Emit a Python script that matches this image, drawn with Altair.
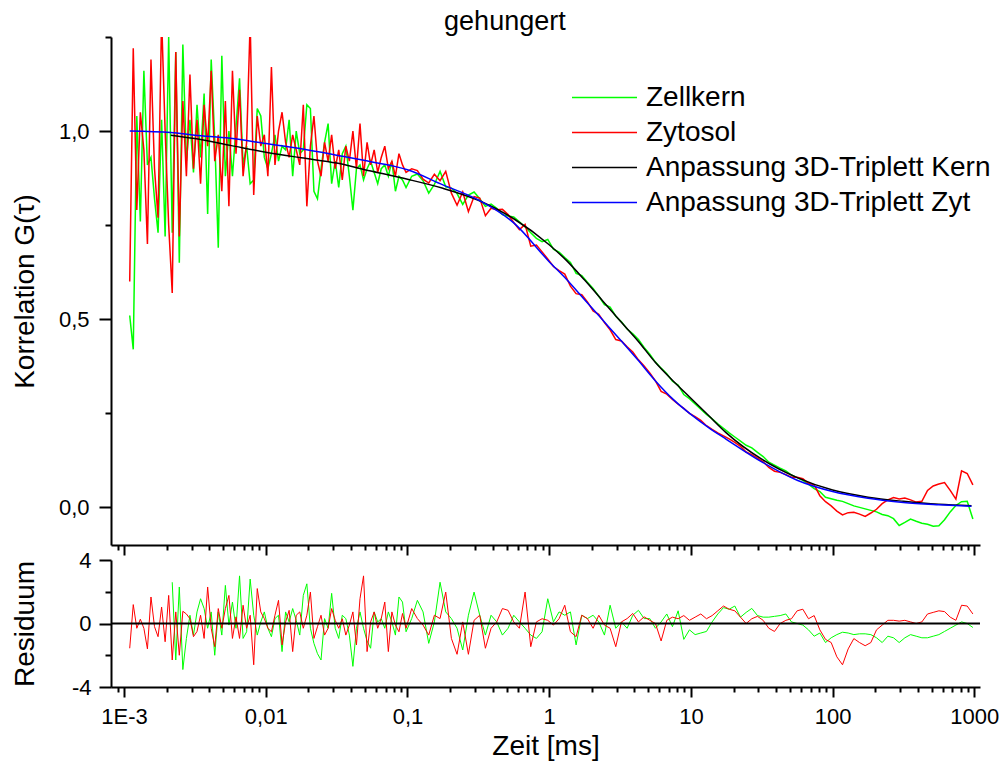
import altair as alt
import numpy as np
import pandas as pd

FONT = "Liberation Sans"

# lag times (log10 of tau in ms)
LOG_TAU = [
    -2.960, -2.935, -2.910, -2.885, -2.860, -2.835, -2.810, -2.785, -2.760, -2.735,
    -2.710, -2.685, -2.660, -2.635, -2.610, -2.585, -2.560, -2.535, -2.510, -2.485,
    -2.460, -2.435, -2.410, -2.385, -2.360, -2.335, -2.310, -2.285, -2.260, -2.235,
    -2.210, -2.185, -2.160, -2.135, -2.110, -2.085, -2.060, -2.035, -2.010, -1.985,
    -1.960, -1.935, -1.910, -1.885, -1.860, -1.835, -1.810, -1.785, -1.760, -1.735,
    -1.710, -1.685, -1.660, -1.635, -1.610, -1.585, -1.560, -1.535, -1.510, -1.485,
    -1.460, -1.435, -1.410, -1.385, -1.360, -1.335, -1.310, -1.285, -1.260, -1.235,
    -1.210, -1.185, -1.160, -1.135, -1.110, -1.085, -1.060, -1.035, -1.010,
    -0.97, -0.93, -0.89, -0.85, -0.81, -0.77, -0.73, -0.69, -0.65, -0.61,
    -0.57, -0.53, -0.49, -0.45, -0.41, -0.37, -0.33, -0.29, -0.25, -0.21,
    -0.17, -0.13, -0.09, -0.05, -0.01, 0.03, 0.07, 0.11, 0.15, 0.19,
    0.23, 0.27, 0.31, 0.35, 0.39, 0.43, 0.47, 0.51, 0.55, 0.59,
    0.63, 0.67, 0.71, 0.75, 0.79, 0.83, 0.87, 0.91, 0.95, 0.99,
    1.03, 1.07, 1.11, 1.15, 1.19, 1.23, 1.27, 1.31, 1.35, 1.39,
    1.43, 1.47, 1.51, 1.55, 1.59, 1.63, 1.67, 1.71, 1.75, 1.79,
    1.83, 1.87, 1.91, 1.95, 1.99, 2.03, 2.07, 2.11, 2.15, 2.19,
    2.23, 2.27, 2.31, 2.35, 2.39, 2.43, 2.47, 2.51, 2.55, 2.59,
    2.63, 2.67, 2.71, 2.75, 2.79, 2.83, 2.87, 2.91, 2.95, 2.99,
]

ZELLKERN = [
    0.51, 0.42, 1.04, 0.76, 1.16, 0.91, 0.93, 0.82, 0.73, 1.03,
    0.72, 1.25, 0.73, 1.21, 0.65, 1.23, 0.92, 1.03, 0.89, 1.07,
    0.93, 1.10, 0.78, 1.19, 0.98, 0.69, 1.20, 0.88, 1.00, 0.88,
    1.01, 1.14, 0.91, 0.96, 0.86, 0.87, 1.06, 1.04, 0.93, 0.90,
    0.94, 0.99, 0.92, 0.96, 0.95, 1.03, 0.88, 1.00, 0.94, 0.95,
    1.07, 1.06, 0.84, 0.82, 0.90, 0.97, 1.02, 0.86, 0.92, 0.85,
    0.94, 0.96, 0.88, 0.79, 0.90, 0.91, 0.87, 0.90, 0.92, 0.89,
    0.86, 0.90, 0.91, 0.88, 0.92, 0.84, 0.88, 0.87, 0.85,
    0.880, 0.886, 0.868, 0.835, 0.858, 0.893, 0.852, 0.848, 0.834, 0.805,
    0.830, 0.838, 0.820, 0.800, 0.806, 0.795, 0.778, 0.774, 0.772, 0.759,
    0.745, 0.730, 0.715, 0.706, 0.712, 0.686, 0.678, 0.664, 0.651, 0.622,
    0.616, 0.598, 0.582, 0.561, 0.539, 0.532, 0.508, 0.493, 0.474, 0.461,
    0.446, 0.425, 0.407, 0.386, 0.370, 0.355, 0.335, 0.325, 0.300, 0.289,
    0.275, 0.261, 0.247, 0.235, 0.222, 0.210, 0.198, 0.187, 0.176, 0.165,
    0.158, 0.146, 0.135, 0.120, 0.112, 0.104, 0.097, 0.086, 0.079, 0.072,
    0.062, 0.050, 0.042, 0.027, 0.023, 0.019, 0.016, 0.010, 0.004, 0.000,
    -0.004, -0.008, -0.012, -0.019, -0.022, -0.030, -0.048, -0.040, -0.031, -0.037,
    -0.042, -0.045, -0.050, -0.049, -0.033, -0.012, 0.005, 0.015, 0.016, -0.031,
]

ZYTOSOL = [
    0.60, 1.22, 0.79, 1.05, 0.95, 0.70, 1.19, 0.90, 0.77, 1.30,
    1.00, 0.75, 0.57, 1.21, 0.72, 1.08, 0.88, 1.15, 0.90, 1.03,
    0.86, 1.07, 0.96, 1.16, 0.92, 0.99, 0.84, 1.08, 0.80, 1.16,
    0.94, 1.11, 0.88, 0.97, 1.29, 0.83, 1.04, 0.96, 0.99, 0.88,
    1.17, 0.91, 1.00, 1.05, 0.97, 0.93, 0.99, 0.95, 0.91, 1.07,
    0.80, 0.96, 1.04, 0.92, 0.88, 0.97, 0.92, 0.99, 0.90, 0.95,
    0.87, 0.96, 0.92, 1.00, 0.90, 1.02, 0.88, 0.97, 0.91, 0.95,
    0.89, 0.93, 0.96, 0.90, 0.92, 0.88, 0.94, 0.91, 0.89,
    0.900, 0.895, 0.872, 0.862, 0.885, 0.868, 0.893, 0.835, 0.803, 0.838,
    0.786, 0.826, 0.822, 0.775, 0.795, 0.791, 0.792, 0.778, 0.757, 0.738,
    0.752, 0.694, 0.697, 0.679, 0.660, 0.640, 0.629, 0.620, 0.588, 0.568,
    0.565, 0.546, 0.522, 0.513, 0.491, 0.472, 0.446, 0.442, 0.427, 0.413,
    0.392, 0.376, 0.357, 0.336, 0.308, 0.301, 0.287, 0.274, 0.263, 0.250,
    0.241, 0.231, 0.217, 0.207, 0.198, 0.190, 0.182, 0.173, 0.162, 0.147,
    0.140, 0.131, 0.121, 0.106, 0.096, 0.093, 0.087, 0.080, 0.080, 0.076,
    0.064, 0.060, 0.031, 0.015, 0.004, -0.010, -0.020, -0.014, -0.013, -0.018,
    -0.024, -0.015, -0.005, 0.010, 0.020, 0.026, 0.022, 0.025, 0.020, 0.014,
    0.016, 0.045, 0.057, 0.062, 0.066, 0.045, 0.022, 0.097, 0.090, 0.060,
]

RES_KERN = [None] * 12 + [
    2.60, -2.30, 2.30, -2.90, -0.94, 0.52, -0.73, 0.73, 1.56, 0.94,
    -0.30, 0.73, -2.00, 0.73, -0.73, 2.40, -0.10, 1.35, -0.30, 3.00,
    -0.94, -0.52, 2.80, 0.52, -0.73, 0.10, 0.73, -0.30, -0.83, 0.31,
    0.52, -1.77, 0.73, 0.10, 0.94, 0.20, -0.73, 1.77, 2.50, -0.30,
    -1.25, -1.90, -2.30, 0.31, -0.30, 1.90, -0.30, -0.94, 0.52, 0.31,
    -0.73, -2.70, -0.30, 0.73, -0.30, -1.10, -1.56, 0.73, 0.10, 0.31,
    -0.30, 0.73, 0.10, -0.73, 1.67, 1.35, -0.52,
    0.31, 1.46, 0.73, -1.25, 0.10, 2.60, 0.73, 0.31, -0.30, -1.67,
    0.52, 1.98, 0.52, -0.73, 0.52, 0.10, -0.73, -0.30, 0.52, 0.10,
    -0.30, -0.73, -0.94, -0.52, 1.56, 0.10, 0.73, 0.52, 0.73, -1.35,
    0.52, 0.31, 0.52, 0.10, -0.73, 1.15, -0.30, 0.10, -0.30, 0.52,
    0.83, 0.31, 0.31, -0.30, 0.10, 0.60, -0.20, 0.80, -1.00, -0.40,
    -0.70, -0.60, -0.50, 0.10, 0.60, 1.00, 0.90, 1.10, 0.40, 0.70,
    0.95, 0.50, 0.40, 0.40, 0.45, 0.50, 0.60, 0.10, 0.00, -0.10,
    -0.40, -0.80, -0.60, -1.20, -0.90, -0.70, -0.55, -0.60, -0.70, -0.65,
    -0.65, -0.70, -0.90, -1.20, -0.80, -0.90, -1.20, -0.90, -0.70, -0.80,
    -0.90, -0.90, -0.80, -0.70, -0.50, -0.30, -0.10, 0.10, 0.00, -0.25,
]

RES_ZYT = [
    -1.56, 1.19, -0.30, 0.27, -0.30, -1.60, 1.67, -0.20, -0.83, 1.04,
    -1.15, 1.77, -2.30, 0.73, -2.00, 0.77, 0.60, 0.30, -0.83, -0.50,
    0.52, -0.94, 2.30, -0.30, -1.46, 0.94, -0.30, 0.94, 1.77, -0.94,
    0.42, -0.94, 1.15, -0.30, 0.52, -2.60, 2.20, 0.73, 0.31, -0.30,
    -0.52, 0.52, 1.46, -1.35, 0.10, 0.83, -1.77, 0.52, 0.73, -0.30,
    0.52, 1.98, -0.94, -0.20, 0.52, -0.73, -0.30, 0.94, 0.20, -0.30,
    0.30, -0.73, -0.10, 0.73, -1.35, 1.56, 3.00, -1.77, 0.10, 0.73,
    -0.30, 0.31, 1.35, -1.77, 0.73, -0.10, -0.52, 0.63, -0.30,
    0.94, 0.31, -0.10, -0.73, 0.52, 0.31, 1.98, -0.94, -1.94, 0.10,
    -1.94, 0.20, 0.52, -1.56, -0.30, 0.10, 0.94, 0.83, 0.10, -0.30,
    1.98, -1.46, 0.10, 0.30, 0.20, -0.10, 0.30, 1.15, -0.52, -0.83,
    0.52, 0.31, -0.30, 0.52, -0.10, -0.30, -1.46, 0.10, 0.31, 0.63,
    0.10, 0.42, 0.20, 0.00, -1.10, 0.20, 0.40, 0.30, 0.50, 0.20,
    0.40, 0.60, 0.30, 0.50, 0.80, 1.10, 0.90, 0.80, 0.40, 0.00,
    0.30, 0.45, 0.20, -0.30, -0.50, 0.00, 0.20, 0.30, 0.80, 0.90,
    0.30, 0.50, -0.40, -1.00, -1.20, -2.10, -2.60, -1.60, -0.95, -1.20,
    -1.40, -1.20, -0.40, -0.10, 0.20, 0.20, 0.15, 0.20, 0.10, 0.00,
    0.10, 0.60, 0.70, 0.80, 0.75, 0.40, 0.20, 1.15, 1.10, 0.60,
]

FIT_LOG_TAU_KERN = [-2.67, -2.5, -2.25, -2.0, -1.75, -1.5, -1.25, -1.0, -0.75, -0.5,
                    -0.25, 0.0, 0.125, 0.25, 0.375, 0.5, 0.625, 0.75, 0.875, 1.0,
                    1.125, 1.25, 1.5, 1.75, 2.0, 2.25, 2.5, 2.75, 2.98]
FIT_KERN = [0.989, 0.980, 0.962, 0.944, 0.929, 0.915, 0.893, 0.872, 0.848, 0.816,
            0.767, 0.698, 0.655, 0.604, 0.550, 0.496, 0.443, 0.385, 0.336, 0.290,
            0.244, 0.198, 0.128, 0.079, 0.046, 0.027, 0.016, 0.008, 0.004]

FIT_LOG_TAU_ZYT = [-2.96, -2.67, -2.5, -2.25, -2.0, -1.75, -1.5, -1.25, -1.0, -0.75,
                   -0.5, -0.25, 0.0, 0.125, 0.25, 0.375, 0.5, 0.625, 0.75, 0.875,
                   1.0, 1.125, 1.25, 1.5, 1.75, 2.0, 2.25, 2.5, 2.75, 2.98]
FIT_ZYT = [1.000, 0.996, 0.989, 0.981, 0.967, 0.953, 0.936, 0.918, 0.897, 0.857,
           0.817, 0.756, 0.653, 0.605, 0.552, 0.499, 0.446, 0.392, 0.336, 0.287,
           0.247, 0.212, 0.181, 0.121, 0.072, 0.042, 0.024, 0.013, 0.007, 0.003]

SERIES = ["Zellkern", "Zytosol", "Anpassung 3D-Triplett Kern", "Anpassung 3D-Triplett Zyt"]
COLORS = ["#00ff00", "#ff0000", "#000000", "#0000ff"]

X_MAJOR = [0.001, 0.01, 0.1, 1, 10, 100, 1000]
X_LABELS = ["1E-3", "0,01", "0,1", "1", "10", "100", "1000"]
X_MINOR = [m * d for d in [0.0001, 0.001, 0.01, 0.1, 1, 10, 100]
           for m in range(2, 10) if 8.09e-4 <= m * d <= 1097]
Y_MAJOR = [0.0, 0.5, 1.0]
Y_MINOR = [0.25, 0.75, 1.25]
R_MAJOR = [-4, 0, 4]
R_MINOR = [-2, 2]

tau = 10 ** np.array(LOG_TAU)
df_kern = pd.DataFrame({"tau": tau, "G": ZELLKERN, "series": SERIES[0]})
df_zyt = pd.DataFrame({"tau": tau, "G": ZYTOSOL, "series": SERIES[1]})
df_fk = pd.DataFrame({"tau": 10 ** np.array(FIT_LOG_TAU_KERN), "G": FIT_KERN, "series": SERIES[2]})
df_fz = pd.DataFrame({"tau": 10 ** np.array(FIT_LOG_TAU_ZYT), "G": FIT_ZYT, "series": SERIES[3]})
df_rk = pd.DataFrame({"tau": tau, "R": RES_KERN}).dropna()
df_rz = pd.DataFrame({"tau": tau, "R": RES_ZYT})
df_zero = pd.DataFrame({"R": [0]})

xscale = alt.Scale(type="log", domain=[8.09e-4, 1097], nice=False)
yscale = alt.Scale(domain=[-0.1, 1.25], nice=False, zero=False)
rscale = alt.Scale(domain=[-4, 4], nice=False, zero=False)
cscale = alt.Scale(domain=SERIES, range=COLORS)

label_expr = " : ".join(
    f"datum.value < {v * 3.1622} ? '{lab}'" for v, lab in zip(X_MAJOR[:-1], X_LABELS[:-1])
) + f" : '{X_LABELS[-1]}'"

common = dict(domainColor="black", domainWidth=2, tickColor="black", tickWidth=2,
              grid=False, labelFont=FONT, labelColor="black", titleFont=FONT,
              titleColor="black", titleFontWeight="normal")


def x_major(show_labels, title):
    kw = dict(values=X_MAJOR, orient="bottom", tickSize=10, labels=show_labels,
              labelFontSize=22, labelPadding=9, labelFlush=False, labelOverlap=False,
              labelExpr=label_expr, **common)
    if title:
        kw.update(title=title, titleFontSize=28, titleY=67, titleBaseline="alphabetic")
    else:
        kw.update(title=None)
    return alt.Axis(**kw)


def x_minor():
    return alt.Axis(values=X_MINOR, orient="bottom", tickSize=5, labels=False,
                    domain=False, title=None, **common)


legend = alt.Legend(orient="none", legendX=460, legendY=43, title=None,
                    symbolType="stroke", symbolSize=4225, symbolStrokeWidth=1.5,
                    labelFontSize=28, labelFont=FONT, labelColor="black",
                    labelOffset=8, rowPadding=0, clipHeight=35, labelLimit=600)

color = alt.Color("series:N", scale=cscale, legend=legend)

top_green = alt.Chart(df_kern).mark_line(strokeWidth=1.5, clip=True).encode(
    x=alt.X("tau:Q", scale=xscale, axis=x_major(False, None)),
    y=alt.Y("G:Q", scale=yscale, axis=alt.Axis(
        values=Y_MAJOR, orient="left", tickSize=12, labelFontSize=22, labelPadding=10,
        labelExpr="replace(format(datum.value, '.1f'), '.', ',')",
        title="Korrelation G(τ)", titleFontSize=28, titleX=-78,
        titleBaseline="alphabetic", **common)),
    color=color,
)
top_red = alt.Chart(df_zyt).mark_line(strokeWidth=1.5, clip=True).encode(
    x=alt.X("tau:Q", scale=xscale, axis=x_minor()),
    y=alt.Y("G:Q", scale=yscale, axis=alt.Axis(
        values=Y_MINOR, orient="left", tickSize=6, labels=False, domain=False,
        title=None, **common)),
    color=color,
)
top_black = alt.Chart(df_fk).mark_line(strokeWidth=1.5, clip=True, interpolate="monotone").encode(
    x=alt.X("tau:Q", scale=xscale, axis=None),
    y=alt.Y("G:Q", scale=yscale, axis=None),
    color=color,
)
top_blue = alt.Chart(df_fz).mark_line(strokeWidth=1.5, clip=True, interpolate="monotone").encode(
    x=alt.X("tau:Q", scale=xscale, axis=None),
    y=alt.Y("G:Q", scale=yscale, axis=None),
    color=color,
)
top = alt.layer(top_green, top_red, top_black, top_blue).resolve_axis(
    x="independent", y="independent").properties(width=869, height=508)

res_green = alt.Chart(df_rk).mark_line(strokeWidth=1, color="#00ff00", clip=True).encode(
    x=alt.X("tau:Q", scale=xscale, axis=x_major(True, "Zeit [ms]")),
    y=alt.Y("R:Q", scale=rscale, axis=alt.Axis(
        values=R_MAJOR, orient="left", tickSize=12, labelFontSize=22, labelPadding=8,
        labelExpr="'' + datum.value", title="Residuum", titleFontSize=28, titleX=-78,
        titleBaseline="alphabetic", **common)),
)
res_red = alt.Chart(df_rz).mark_line(strokeWidth=1, color="#ff0000", clip=True).encode(
    x=alt.X("tau:Q", scale=xscale, axis=x_minor()),
    y=alt.Y("R:Q", scale=rscale, axis=alt.Axis(
        values=R_MINOR, orient="left", tickSize=6, labels=False, domain=False,
        title=None, **common)),
)
res_zero = alt.Chart(df_zero).mark_rule(color="black", strokeWidth=2).encode(
    y=alt.Y("R:Q", scale=rscale, axis=None),
)
bottom = alt.layer(res_green, res_red, res_zero).resolve_axis(
    x="independent", y="independent").properties(width=869, height=127)

chart = alt.vconcat(top, bottom, spacing=15, bounds="flush").resolve_legend(
    color="independent").properties(
    title=alt.TitleParams(text="gehungert", fontSize=27, font=FONT, fontWeight="normal",
                          color="black", anchor="middle", frame="bounds", offset=5, dy=5),
    padding={"left": 10, "top": 7, "right": 5, "bottom": 5},
    background="white",
).configure_view(stroke="transparent")

chart.save("out.html", embed_options={"renderer": "svg", "actions": False})
